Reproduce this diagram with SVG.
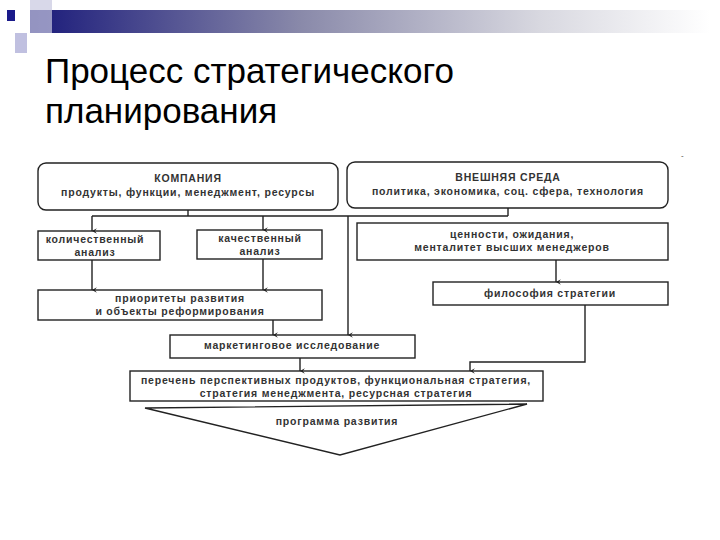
<svg xmlns="http://www.w3.org/2000/svg" width="720" height="540" viewBox="0 0 720 540">
<defs>
<linearGradient id="bar" x1="0" x2="1" y1="0" y2="0">
<stop offset="0" stop-color="#1a1a7a"/><stop offset="0.4" stop-color="#8a8aaa"/><stop offset="0.75" stop-color="#d8d8e0"/><stop offset="1" stop-color="#ffffff"/>
</linearGradient>
<marker id="ar" viewBox="0 0 10 10" refX="5" refY="9" markerWidth="7" markerHeight="7" orient="auto-start-reverse" markerUnits="userSpaceOnUse">
<path d="M1,2 L5,9 L9,2 L5,5 Z" fill="#222"/>
</marker>
</defs>
<style>
.b{fill:#fff;stroke:#222;stroke-width:1.4}
.t{font-family:"Liberation Sans",Arial,sans-serif;font-size:10.5px;font-weight:bold;letter-spacing:0.8px;fill:#333;text-anchor:middle}
.c{fill:none;stroke:#222;stroke-width:1.4}
.a{marker-end:url(#ar)}
</style>
<rect width="720" height="540" fill="#fff"/>
<g id="header">
<rect x="30" y="10" width="680" height="23" fill="url(#bar)"/>
<rect x="30" y="0" width="22" height="33" fill="#c8c8e0" opacity="0.7"/>
<rect x="15" y="33" width="12" height="20" fill="#b0b0d8" opacity="0.8"/>
<rect x="7" y="10" width="8" height="11" fill="#1a1a8a"/>
<text x="45" y="83" font-family="Liberation Sans,Arial,sans-serif" font-size="35" fill="#000">Процесс стратегического</text>
<text x="45" y="123" font-family="Liberation Sans,Arial,sans-serif" font-size="35" fill="#000">планирования</text>
<text x="681" y="158" font-family="Liberation Sans,Arial,sans-serif" font-size="8" fill="#444">-</text>
</g>
<g id="company"><rect class="b" x="38" y="163" width="300" height="47" rx="8"/>
<text class="t" x="188" y="182">КОМПАНИЯ</text><text class="t" x="188" y="196">продукты, функции, менеджмент, ресурсы</text></g>
<g id="env"><rect class="b" x="347" y="162" width="321" height="46" rx="8"/>
<text class="t" x="508" y="181">ВНЕШНЯЯ СРЕДА</text><text class="t" x="508" y="195">политика, экономика, соц. сфера, технология</text></g>
<g id="quant"><rect class="b" x="38" y="231" width="122" height="29"/>
<text class="t" x="95" y="243">количественный</text><text class="t" x="95" y="256">анализ</text></g>
<g id="qual"><rect class="b" x="197" y="230" width="125" height="29"/>
<text class="t" x="260" y="242">качественный</text><text class="t" x="260" y="255">анализ</text></g>
<g id="values"><rect class="b" x="357" y="223" width="311" height="37"/>
<text class="t" x="512" y="238">ценности, ожидания,</text><text class="t" x="512" y="251">менталитет высших менеджеров</text></g>
<g id="priorities"><rect class="b" x="38" y="290" width="284" height="30"/>
<text class="t" x="180" y="302">приоритеты развития</text><text class="t" x="180" y="315">и объекты реформирования</text></g>
<g id="philosophy"><rect class="b" x="433" y="282" width="235" height="23"/>
<text class="t" x="550" y="297">философия стратегии</text></g>
<g id="marketing"><rect class="b" x="170" y="335" width="245" height="23"/>
<text class="t" x="292" y="349">маркетинговое исследование</text></g>
<g id="list"><rect class="b" x="130" y="371" width="413" height="30"/>
<text class="t" x="336" y="384">перечень перспективных продуктов, функциональная стратегия,</text><text class="t" x="336" y="397">стратегия менеджмента, ресурсная стратегия</text></g>
<g id="program"><polygon points="145,408 527,404 340,455" fill="#fff" stroke="#222" stroke-width="1.4"/>
<text class="t" x="337" y="425">программа развития</text></g>
<g id="connectors">
<path class="c" d="M188,210 V216 M508,208 V216 M92,216 H508"/>
<path class="c a" d="M92,216 V231"/>
<path class="c a" d="M263,216 V230"/>
<path class="c a" d="M348,216 V335"/>
<path class="c a" d="M92,260 V290"/>
<path class="c a" d="M263,259 V290"/>
<path class="c a" d="M273,320 V335"/>
<path class="c a" d="M556,260 V282"/>
<path class="c a" d="M300,358 V371"/>
<path class="c a" d="M585,305 V362 H470 V371"/>
</g>
</svg>
